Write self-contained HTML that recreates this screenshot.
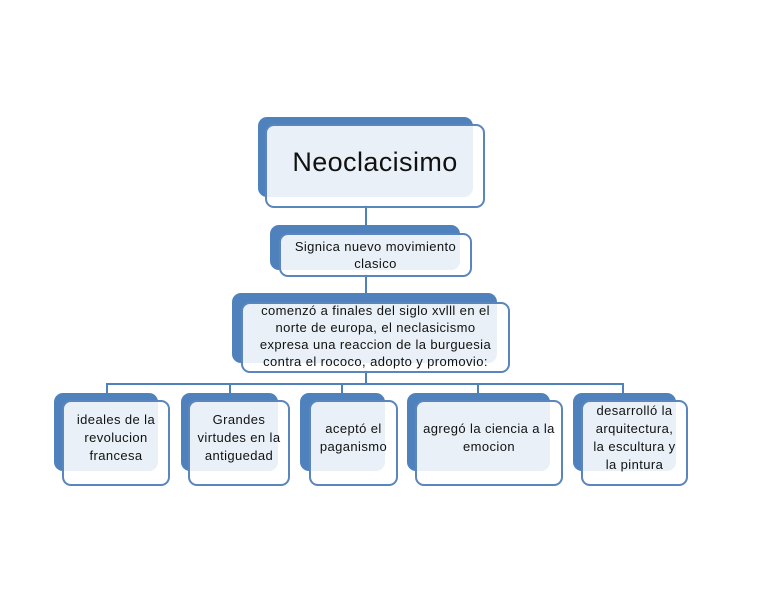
<!DOCTYPE html>
<html><head><meta charset="utf-8"><style>
body{margin:0;width:768px;height:594px;background:#fff;position:relative;overflow:hidden;font-family:"Liberation Sans",sans-serif}
.b{position:absolute;background:#4f81bd;border-radius:9px}
.f{position:absolute;box-sizing:border-box;border:2px solid #5a86bd;border-radius:9px;background:rgba(255,255,255,0.88);display:flex;align-items:center;justify-content:center;text-align:center;color:#111;line-height:1.3;letter-spacing:0.4px}
.s{line-height:18px;padding-bottom:10px}
.l{position:absolute;background:#4f81bd}
</style></head><body>
<div class="l" style="left:365px;top:205px;width:2px;height:22px"></div>
<div class="l" style="left:365px;top:274px;width:2px;height:22px"></div>
<div class="l" style="left:365px;top:370px;width:2px;height:14px"></div>
<div class="l" style="left:106px;top:383px;width:518px;height:2px"></div>
<div class="l" style="left:106px;top:383px;width:2px;height:12px"></div>
<div class="l" style="left:229px;top:383px;width:2px;height:12px"></div>
<div class="l" style="left:341px;top:383px;width:2px;height:12px"></div>
<div class="l" style="left:477px;top:383px;width:2px;height:12px"></div>
<div class="l" style="left:622px;top:383px;width:2px;height:12px"></div>

<div class="b" style="left:258px;top:117px;width:215px;height:80px"></div>
<div class="f" style="left:265px;top:124px;width:220px;height:84px;font-size:27px;padding-bottom:6px">Neoclacisimo</div>

<div class="b" style="left:270px;top:225px;width:190px;height:45px"></div>
<div class="f" style="left:279px;top:233px;width:193px;height:44px;font-size:13px;line-height:17px">Signica nuevo movimiento<br>clasico</div>

<div class="b" style="left:232px;top:293px;width:265px;height:70px"></div>
<div class="f" style="left:241px;top:302px;width:269px;height:71px;font-size:13px;line-height:17px;padding-bottom:4px">comenzó a finales del siglo xvlll en el<br>norte de europa, el neclasicismo<br>expresa una reaccion de la burguesia<br>contra el rococo, adopto y promovio:</div>

<div class="b" style="left:54px;top:393px;width:104px;height:78px"></div>
<div class="f s" style="left:62px;top:400px;width:108px;height:86px;font-size:13px">ideales de la<br>revolucion<br>francesa</div>

<div class="b" style="left:181px;top:393px;width:97px;height:78px"></div>
<div class="f s" style="left:188px;top:400px;width:102px;height:86px;font-size:13px">Grandes<br>virtudes en la<br>antiguedad</div>

<div class="b" style="left:300px;top:393px;width:85px;height:78px"></div>
<div class="f s" style="left:309px;top:400px;width:89px;height:86px;font-size:13px">aceptó el<br>paganismo</div>

<div class="b" style="left:407px;top:393px;width:143px;height:78px"></div>
<div class="f s" style="left:415px;top:400px;width:148px;height:86px;font-size:13px">agregó la ciencia a la<br>emocion</div>

<div class="b" style="left:573px;top:393px;width:103px;height:78px"></div>
<div class="f s" style="left:581px;top:400px;width:107px;height:86px;font-size:13px">desarrolló la<br>arquitectura,<br>la escultura y<br>la pintura</div>
</body></html>
